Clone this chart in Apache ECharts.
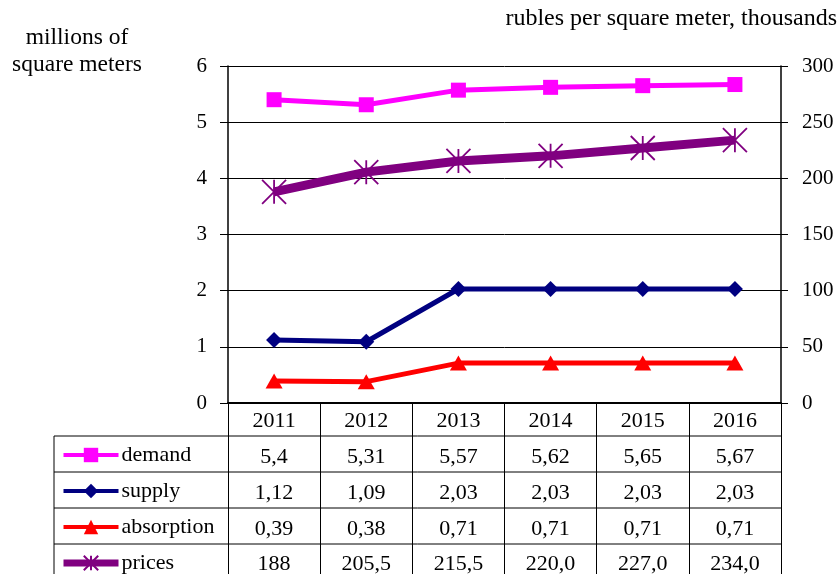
<!DOCTYPE html>
<html><head><meta charset="utf-8">
<script src="https://cdn.jsdelivr.net/npm/echarts@6/dist/echarts.min.js"></script>
<style>html,body{margin:0;padding:0;background:#fff}#c{width:840px;height:574px}</style>
</head><body><div id="c"></div>
<script>
const years = ['2011','2012','2013','2014','2015','2016'];
const demand = [5.4, 5.31, 5.57, 5.62, 5.65, 5.67];
const supply = [1.12, 1.09, 2.03, 2.03, 2.03, 2.03];
const absorption = [0.39, 0.38, 0.71, 0.71, 0.71, 0.71];
const prices = [188, 205.5, 215.5, 220.0, 227.0, 234.0];
const demandLabels = ['5,4','5,31','5,57','5,62','5,65','5,67'];
const supplyLabels = ['1,12','1,09','2,03','2,03','2,03','2,03'];
const absorptionLabels = ['0,39','0,38','0,71','0,71','0,71','0,71'];
const priceLabels = ['188','205,5','215,5','220,0','227,0','234,0'];

const FONT = '"Liberation Serif", "Times New Roman", serif';
const W = 840, H = 574;
const GL = 228, GR = 781, GT = 66, GB = 403;
const ROW = 36, HEAD = 33, TABLE_LEFT = 54;

const chart = echarts.init(document.getElementById('c'), null, {renderer: 'canvas'});

const hLines = [];
for (let i = 0; i < 4; i++) {
  const y = GB + HEAD + i * ROW;
  hLines.push({type: 'line', shape: {x1: TABLE_LEFT, y1: y, x2: GR, y2: y},
    style: {stroke: '#000', lineWidth: 1}, z: 5});
}
hLines.push({type: 'line', shape: {x1: TABLE_LEFT, y1: GB + HEAD, x2: TABLE_LEFT, y2: H},
  style: {stroke: '#000', lineWidth: 1}, z: 5});

const asterisk = 'path://M0,0L20,20M20,0L0,20M10,0L10,20';

chart.setOption({
  backgroundColor: '#fff',
  animation: false,
  textStyle: {fontFamily: FONT, color: '#000'},
  title: [
    {text: 'millions of\nsquare meters', left: 77, top: 24, textAlign: 'center', padding: 0,
     textStyle: {fontFamily: FONT, fontSize: 23.5, fontWeight: 'normal', color: '#000', lineHeight: 27}},
    {text: 'rubles per square meter, thousands', right: 3, top: 6, padding: 0,
     textStyle: {fontFamily: FONT, fontSize: 24, fontWeight: 'normal', color: '#000', lineHeight: 26}}
  ],
  legend: {
    orient: 'vertical', left: 60, top: GB + HEAD + 8, padding: 0,
    itemWidth: 55, itemHeight: 18, itemGap: 14,
    textStyle: {fontFamily: FONT, fontSize: 22, color: '#000', lineHeight: 22, padding: [0, 0, 0, -2]},
    data: [
      {name: 'demand', lineStyle: {width: 4}},
      {name: 'supply', lineStyle: {width: 4}},
      {name: 'absorption', lineStyle: {width: 4}},
      {name: 'prices', lineStyle: {width: 7}}
    ]
  },
  grid: {left: GL, right: W - GR, top: GT, bottom: H - GB, containLabel: false, outerBoundsMode: 'none'},
  xAxis: {
    type: 'category', data: years, boundaryGap: true,
    axisLine: {lineStyle: {color: '#000', width: 2}},
    axisTick: {show: true, inside: false, length: H - GB, alignWithLabel: false,
               lineStyle: {color: '#000', width: 1}},
    axisLabel: {
      margin: 0.5, fontFamily: FONT, fontSize: 22, color: '#000', lineHeight: 35.8,
      formatter: (v, i) => [v, demandLabels[i], supplyLabels[i], absorptionLabels[i], priceLabels[i]].join('\n')
    }
  },
  yAxis: [
    {type: 'value', min: 0, max: 6, interval: 1, position: 'left',
     axisLine: {show: true, lineStyle: {color: '#000', width: 1.5}},
     axisTick: {show: true, inside: false, length: 8, lineStyle: {color: '#000'}},
     axisLabel: {margin: 21, fontFamily: FONT, fontSize: 21, color: '#000'},
     splitLine: {show: true, lineStyle: {color: '#000', width: 1}}},
    {type: 'value', min: 0, max: 300, interval: 50, position: 'right',
     axisLine: {show: true, lineStyle: {color: '#000', width: 1.5}},
     axisTick: {show: true, inside: false, length: 7, lineStyle: {color: '#000'}},
     axisLabel: {margin: 21, fontFamily: FONT, fontSize: 21, color: '#000'},
     splitLine: {show: false}}
  ],
  series: [
    {name: 'demand', type: 'line', data: demand, yAxisIndex: 0,
     lineStyle: {color: '#FF00FF', width: 5}, itemStyle: {color: '#FF00FF'},
     symbol: 'rect', symbolSize: 15, z: 3},
    {name: 'supply', type: 'line', data: supply, yAxisIndex: 0,
     lineStyle: {color: '#000080', width: 5}, itemStyle: {color: '#000080'},
     symbol: 'diamond', symbolSize: [16, 16], z: 3},
    {name: 'absorption', type: 'line', data: absorption, yAxisIndex: 0,
     lineStyle: {color: '#FF0000', width: 5}, itemStyle: {color: '#FF0000'},
     symbol: 'triangle', symbolSize: [17, 15], z: 3},
    {name: 'prices', type: 'line', data: prices, yAxisIndex: 1,
     lineStyle: {color: '#800080', width: 9},
     itemStyle: {color: 'rgba(0,0,0,0)', borderColor: '#800080', borderWidth: 1.8},
     symbol: asterisk, symbolSize: 24, z: 4}
  ],
  graphic: hLines
});
</script></body></html>
